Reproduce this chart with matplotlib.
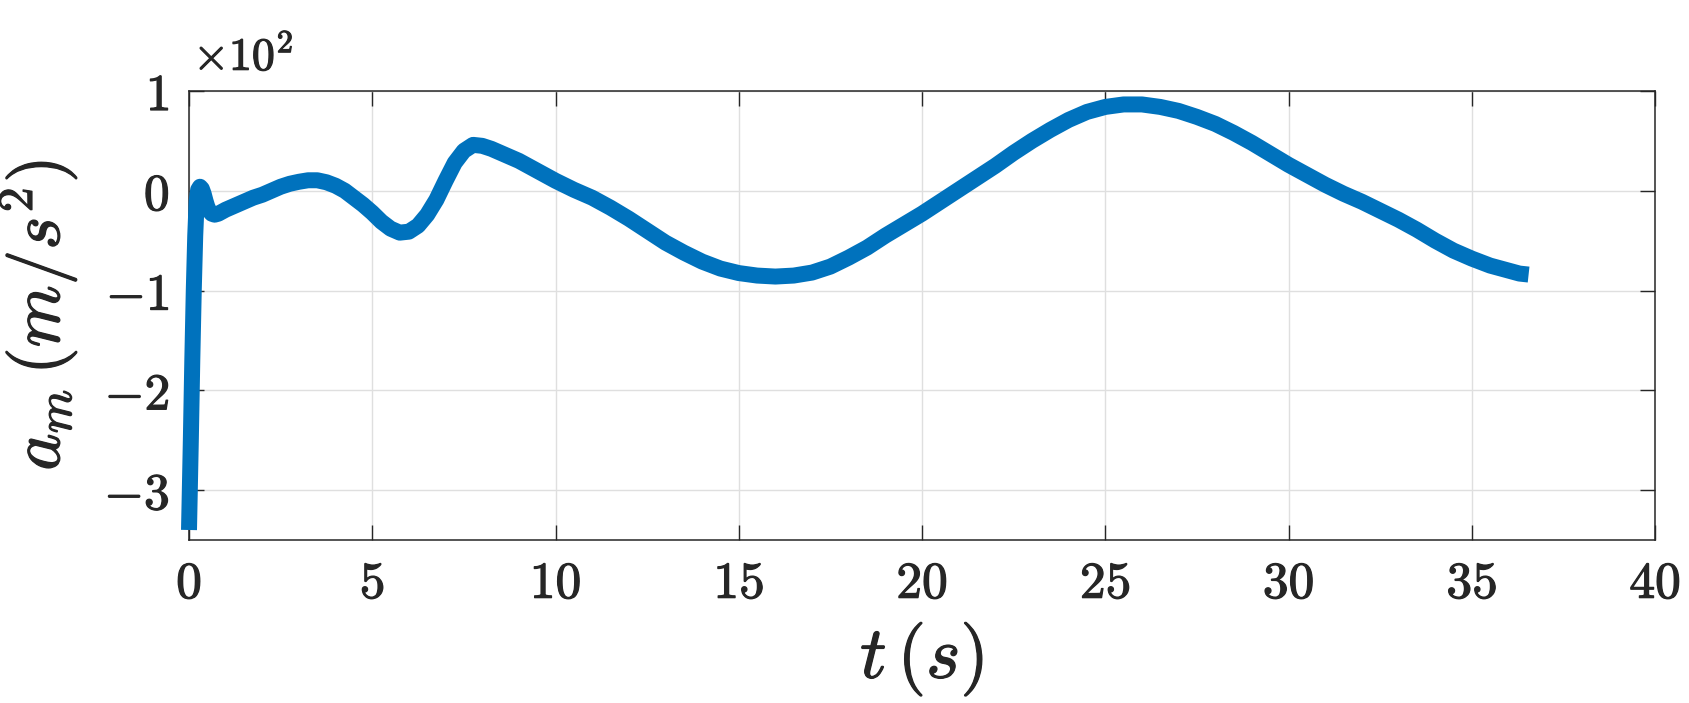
import numpy as np
import matplotlib
matplotlib.use('Agg')
import matplotlib.pyplot as plt
import matplotlib.patheffects as pe
from matplotlib.ticker import FuncFormatter

plt.rcParams['mathtext.fontset'] = 'cm'
plt.rcParams['font.family'] = 'serif'

# Данные (ускорение в м/с^2)
t = [0.00, 0.05, 0.09, 0.13, 0.17, 0.21, 0.25, 0.30, 0.35, 0.40,
     0.45, 0.50, 0.55, 0.62, 0.70, 0.80, 0.90, 1.00, 1.25, 1.50,
     1.75, 2.00, 2.25, 2.50, 2.75, 3.00, 3.25, 3.50, 3.75, 4.00,
     4.25, 4.50, 4.75, 5.00, 5.25, 5.50, 5.75, 6.00, 6.25, 6.50,
     6.75, 7.00, 7.25, 7.50, 7.75, 8.00, 8.25, 8.50, 9.00, 9.50,
     10.00, 10.50, 11.00, 11.50, 12.00, 12.50, 13.00, 13.50, 14.00, 14.50,
     15.00, 15.50, 16.00, 16.50, 17.00, 17.50, 18.00, 18.50, 19.00, 19.50,
     20.00, 20.50, 21.00, 21.50, 22.00, 22.50, 23.00, 23.50, 24.00, 24.50,
     25.00, 25.50, 26.00, 26.50, 27.00, 27.50, 28.00, 28.50, 29.00, 29.50,
     30.00, 30.50, 31.00, 31.50, 32.00, 32.50, 33.00, 33.50, 34.00, 34.50,
     35.00, 35.50, 36.00, 36.30, 36.55]
a_m = [-340, -250, -170, -100, -45, -10, 1, 4, 2, -3,
       -10, -16, -20, -23, -24, -23, -21, -19, -15, -11,
       -7, -4, 0, 4, 7, 9, 10.5, 10.5, 8.5, 5,
       0, -7, -14, -22, -31, -38, -42, -41, -35, -24,
       -9, 10, 28, 40, 46, 45, 42, 38, 30, 20,
       10, 1, -7, -17, -28, -40, -52, -62, -71, -78,
       -82.5, -85, -86, -85, -82, -76, -67, -57, -45, -34,
       -23, -11, 1, 13, 25, 38, 50, 61, 71, 79,
       84, 86.5, 86.5, 84, 80, 74, 67, 58, 48, 37,
       26, 16, 6, -3, -11, -20, -29, -39, -50, -60,
       -68, -75, -80, -83, -84]

x_ticks = [0, 5, 10, 15, 20, 25, 30, 35, 40]
y_ticks = [-300, -200, -100, 0, 100]

fig = plt.figure(figsize=(16.89, 7.03), dpi=100)
ax = fig.add_axes([0.1119, 0.2319, 0.868, 0.6387])

ax.plot(t, a_m, color='#0072BD', linewidth=11.5, solid_capstyle='butt',
        solid_joinstyle='round', clip_on=False, zorder=3)

ax.set_xlim(0, 40)
ax.set_ylim(-350, 100)
ax.set_xticks(x_ticks)
ax.set_yticks(y_ticks)
ax.xaxis.set_major_formatter(FuncFormatter(lambda v, p: f'${v:g}$'))
ax.yaxis.set_major_formatter(FuncFormatter(lambda v, p: f'${v / 100:g}$'))

ax.grid(True, color='#dfdfdf', linewidth=1.0)
ax.set_axisbelow(True)
ax.tick_params(direction='in', length=11, width=1.0, color='#262626',
               top=True, right=True, labelsize=37, labelcolor='#262626', pad=14)
bold = [pe.withStroke(linewidth=0.9, foreground='#262626')]
for lab in ax.get_xticklabels() + ax.get_yticklabels():
    lab.set_path_effects(bold)
for s in ax.spines.values():
    s.set_color('#262626')
    s.set_linewidth(1.1)

ax.text(0.003, 1.025, r'$\times10^{2}$', transform=ax.transAxes, fontsize=33,
        color='#262626', ha='left', va='bottom', path_effects=bold)

ax.set_xlabel(r'$t\,(s)$', fontsize=53, color='#262626', labelpad=8,
              path_effects=bold)
ax.set_ylabel(r'$a_m\,(m/s^2)$', fontsize=51, color='#262626', labelpad=18,
              path_effects=bold)

fig.savefig('out.png', dpi=100)
